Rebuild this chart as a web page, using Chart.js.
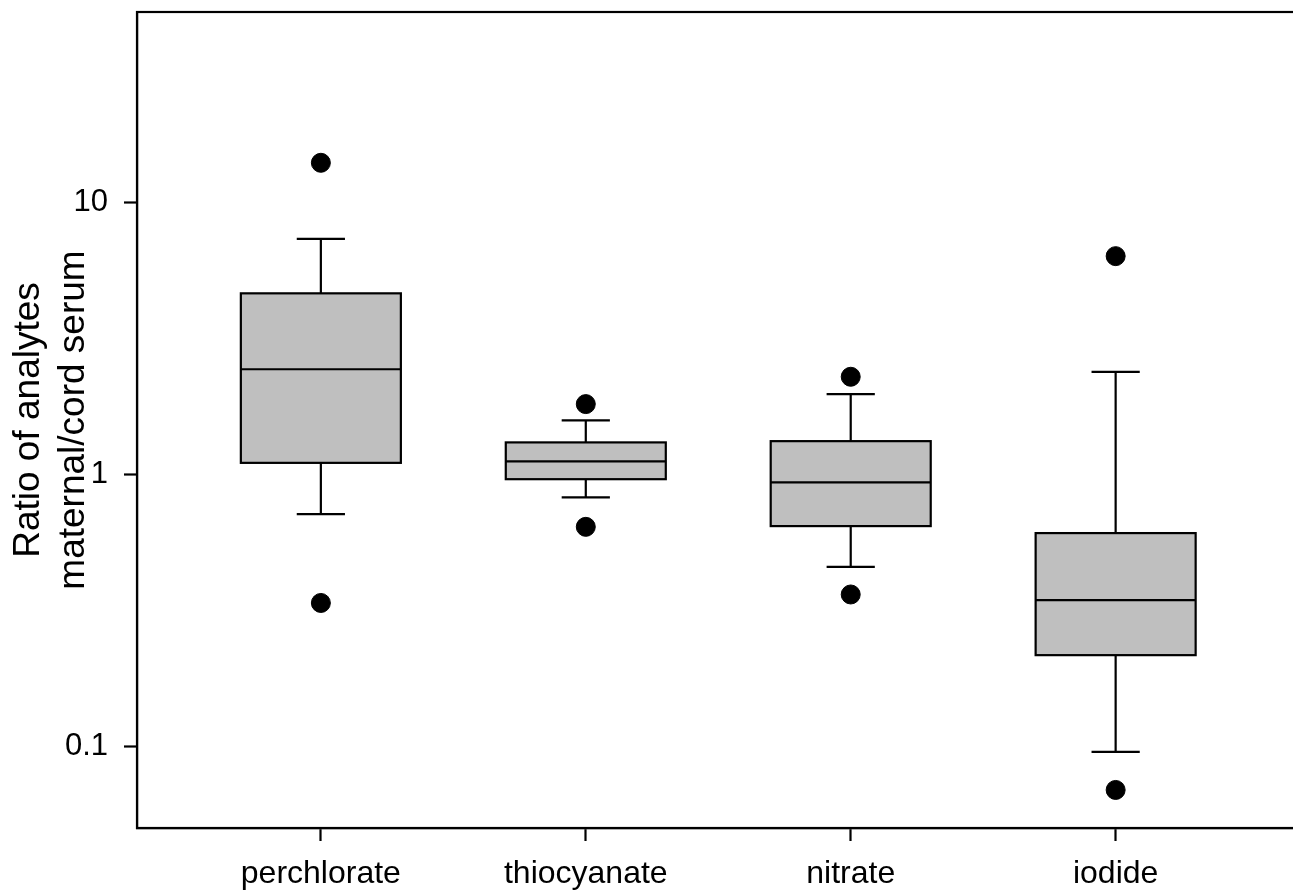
<!DOCTYPE html>
<html>
<head>
<meta charset="utf-8">
<script src="https://cdn.jsdelivr.net/npm/chart.js@4/dist/chart.umd.min.js"></script>
<style>
  html, body { margin: 0; padding: 0; background: #fff; overflow: hidden; }
  #wrap { width: 1310px; height: 894px; position: relative; }
</style>
</head>
<body>
<div id="wrap"><canvas id="boxChart"></canvas></div>
<script>
// box plot values (log scale)
const categories = ['perchlorate', 'thiocyanate', 'nitrate', 'iodide'];
const whiskerLow = [0.713, 0.821, 0.456, 0.0953];
const q1 = [1.10, 0.958, 0.644, 0.216];
const median = [2.43, 1.113, 0.932, 0.344];
const q3 = [4.62, 1.308, 1.322, 0.607];
const whiskerHigh = [7.33, 1.575, 1.968, 2.377];
const outliersHigh = [13.95, 1.809, 2.28, 6.33];
const outliersLow = [0.336, 0.640, 0.361, 0.069];
const yTicks = [0.1, 1, 10];

const outlierPoints = [];
categories.forEach((c, i) => {
  outlierPoints.push({ x: i + 1, y: outliersHigh[i] });
  outlierPoints.push({ x: i + 1, y: outliersLow[i] });
});

const boxHalf = 0.302;   // half box width, in x units
const capHalf = 0.091;   // half whisker cap width

// draws boxes, medians and whiskers through the chart scales
const boxPlugin = {
  id: 'boxes',
  beforeDatasetsDraw(chart) {
    const { ctx, scales: { x, y } } = chart;
    ctx.save();
    ctx.lineWidth = 2.2;
    ctx.strokeStyle = '#000';
    categories.forEach((c, i) => {
      const cx = x.getPixelForValue(i + 1);
      const l = x.getPixelForValue(i + 1 - boxHalf);
      const r = x.getPixelForValue(i + 1 + boxHalf);
      const cl = x.getPixelForValue(i + 1 - capHalf);
      const cr = x.getPixelForValue(i + 1 + capHalf);
      const yq1 = y.getPixelForValue(q1[i]);
      const yq3 = y.getPixelForValue(q3[i]);
      const ymed = y.getPixelForValue(median[i]);
      const ylo = y.getPixelForValue(whiskerLow[i]);
      const yhi = y.getPixelForValue(whiskerHigh[i]);

      ctx.beginPath();
      ctx.moveTo(cx, yq3); ctx.lineTo(cx, yhi);
      ctx.moveTo(cl, yhi); ctx.lineTo(cr, yhi);
      ctx.moveTo(cx, yq1); ctx.lineTo(cx, ylo);
      ctx.moveTo(cl, ylo); ctx.lineTo(cr, ylo);
      ctx.stroke();

      ctx.fillStyle = '#bfbfbf';
      ctx.fillRect(l, yq3, r - l, yq1 - yq3);
      ctx.strokeRect(l, yq3, r - l, yq1 - yq3);

      ctx.beginPath();
      ctx.moveTo(l, ymed); ctx.lineTo(r, ymed);
      ctx.stroke();
    });
    ctx.restore();
  },
  afterDraw(chart) {
    // box around the plot region
    const { ctx, chartArea: a } = chart;
    ctx.save();
    ctx.lineWidth = 2.2;
    ctx.strokeStyle = '#000';
    ctx.strokeRect(a.left, a.top, a.right - a.left, a.bottom - a.top);
    ctx.restore();
  }
};

const fontFamily = '"Liberation Sans", Arial, Helvetica, sans-serif';

new Chart(document.getElementById('boxChart'), {
  type: 'scatter',
  data: {
    datasets: [{
      label: 'outliers',
      data: outlierPoints,
      backgroundColor: '#000',
      borderColor: '#000',
      pointRadius: 9.5,
      pointHoverRadius: 9.5
    }]
  },
  options: {
    responsive: true,
    maintainAspectRatio: false,
    animation: false,
    layout: { padding: { top: 12, right: 10, left: 0, bottom: 0 } },
    plugins: { legend: { display: false }, tooltip: { enabled: false } },
    scales: {
      x: {
        type: 'linear',
        min: 0.306,
        max: 4.694,
        afterBuildTicks: (s) => { s.ticks = categories.map((c, i) => ({ value: i + 1 })); },
        afterFit: (s) => { s.height = 66; s.paddingLeft = 0; s.paddingRight = 0; },
        ticks: {
          color: '#000',
          font: { family: fontFamily, size: 32 },
          padding: 14,
          maxRotation: 0,
          callback: (v) => categories[v - 1]
        },
        grid: { drawOnChartArea: false, drawTicks: true, tickLength: 13, tickColor: '#000', tickWidth: 2.2 },
        border: { display: true, color: '#000', width: 2.2 }
      },
      y: {
        type: 'logarithmic',
        min: 0.05,
        max: 50,
        afterBuildTicks: (s) => { s.ticks = yTicks.map(v => ({ value: v })); },
        afterFit: (s) => { s.width = 137; s.paddingTop = 0; s.paddingBottom = 0; },
        ticks: {
          color: '#000',
          font: { family: fontFamily, size: 31 },
          padding: 16,
          callback: (v) => String(v)
        },
        grid: { drawOnChartArea: false, drawTicks: true, tickLength: 13, tickColor: '#000', tickWidth: 2.2 },
        border: { display: true, color: '#000', width: 2.2 },
        title: {
          display: true,
          text: ['Ratio of analytes', 'maternal/cord serum'],
          color: '#000',
          font: { family: fontFamily, size: 37 },
          padding: { top: 7, bottom: 0 }
        }
      }
    }
  },
  plugins: [boxPlugin]
});
</script>
</body>
</html>
